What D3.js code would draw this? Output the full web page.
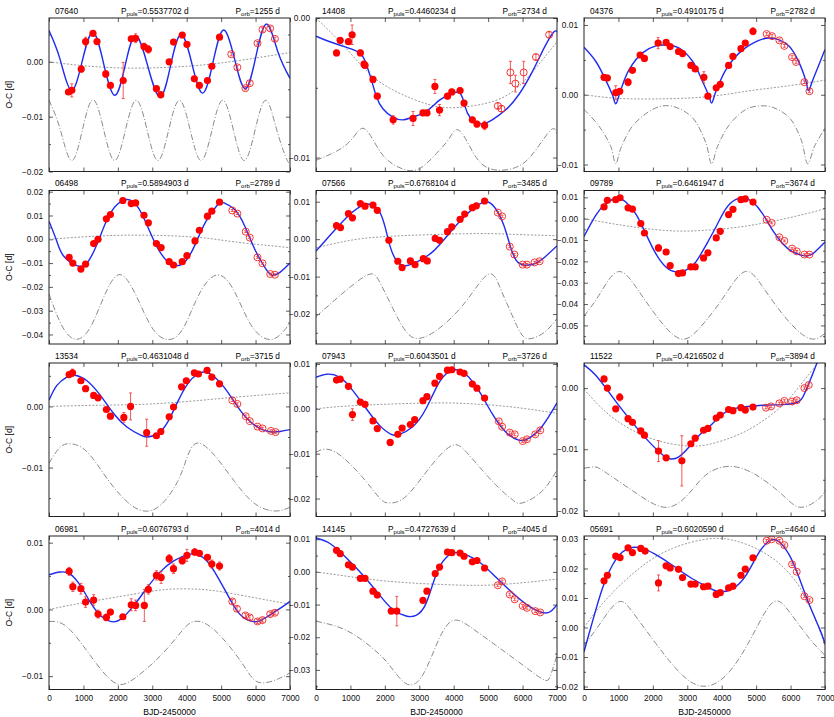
<!DOCTYPE html>
<html>
<head>
<meta charset="utf-8">
<script src="https://cdn.jsdelivr.net/npm/d3@7"></script>
<style>
body { margin: 0; background: #fff; }
text { font-family: "Liberation Sans", Arial, sans-serif; }
</style>
</head>
<body>
<script>
// ---- data: [BJD-2450000, O-C (d), error] for points, [BJD-2450000, O-C] for curves ----
var fill07640 = [[566,-0.0055,.0004],[663,-0.0052,.0012],[936,-0.0013,.0006],[1063,0.0037,.0008],[1277,0.0052,.0003],[1394,0.0037,.0004],[1648,-0.0022,.0006],[1784,-0.0043,.0004],[2155,-0.0034,.0033],[2389,0.0042,.0005],[2516,0.0043,.0008],[2759,0.0028,.0006],[2886,0.0023,.0007],[3120,-0.0049,.0004],[3247,-0.006,.0006],[3490,0.0,.0004],[3617,0.0036,.0004],[3871,0.0049,.0003],[4007,0.0032,.0003],[4222,-0.0031,.0004],[4368,-0.0043,.0004],[4602,-0.0034,.0004],[4729,-0.0008,.0004],[4953,0.0045,.0004]];
var open07640 = [[5294,0.0014,.0003],[5470,-0.001,.0003],[5704,-0.0048,.0003],[5831,-0.0039,.0003],[6055,0.0034,.0003],[6201,0.0059,.0003],[6425,0.0061,.0003],[6562,0.0042,.0003]];
var fit07640 = [[0,0.0057],[320,0.0005],[644,-0.0052],[960,0.0],[1277,0.0054],[1590,-0.0004],[1911,-0.0061],[2210,-0.0007],[2516,0.0048],[2870,-0.0008],[3227,-0.0064],[3530,-0.0007],[3832,0.005],[4150,-0.0003],[4466,-0.0057],[4770,0.0001],[5070,0.0058],[5390,0.0005],[5704,-0.0049],[6010,0.001],[6318,0.0069],[6650,0.0018],[7000,-0.003]];
var quad07640 = [[0,0.0],[1000,-0.0007],[2000,-0.0011],[3000,-0.0011],[4000,-0.0008],[5000,-0.0002],[6000,0.0007],[7000,0.0017]];
var ltte07640 = [[0,-0.007],[320,-0.0122],[648,-0.018],[960,-0.0127],[1275,-0.0069],[1590,-0.0124],[1903,-0.018],[2215,-0.0126],[2530,-0.007],[2845,-0.0123],[3158,-0.018],[3470,-0.0126],[3785,-0.007],[4100,-0.0124],[4413,-0.018],[4725,-0.0127],[5040,-0.007],[5355,-0.0124],[5668,-0.018],[5980,-0.0126],[6295,-0.007],[6610,-0.0123],[6923,-0.018],[7000,-0.0177]];

var fill14408 = [[596,-0.0025,.0002],[702,-0.0016,.0002],[943,-0.0017,.0002],[1049,-0.0012,.0007],[1289,-0.0025,.0002],[1395,-0.0033,.0002],[1424,-0.0034,.0002],[1655,-0.0044,.0002],[1780,-0.0056,.0002],[2241,-0.0073,.0003],[2819,-0.0072,.0005],[3107,-0.0068,.0002],[3223,-0.0068,.0002],[3454,-0.0049,.0005],[3588,-0.0066,.0004],[3819,-0.0056,.0002],[3944,-0.0053,.0002],[4185,-0.0052,.0002],[4300,-0.0061,.0002],[4541,-0.0073,.0002],[4675,-0.0076,.0002],[4897,-0.0077,.0003]];
var open14408 = [[5281,-0.0063,.0002],[5387,-0.0065,.0002],[5647,-0.0039,.0008],[5791,-0.0047,.0006],[6032,-0.0039,.0008],[6388,-0.0028,.0002],[6772,-0.0012,.0002]];
var fit14408 = [[0,-0.0013],[404,-0.0017],[885,-0.0021],[1270,-0.0025],[1443,-0.0032],[1607,-0.0044],[1751,-0.0056],[1943,-0.0065],[2232,-0.0071],[2520,-0.0073],[2809,-0.0071],[3194,-0.0067],[3579,-0.0059],[3867,-0.0055],[4107,-0.0053],[4252,-0.0057],[4396,-0.0068],[4589,-0.0074],[4829,-0.0076],[5118,-0.0073],[5503,-0.0066],[5888,-0.0055],[6273,-0.0039],[6657,-0.002],[6907,-0.001],[7000,-0.001]];
var quad14408 = [[0,0.0],[885,-0.0022],[1751,-0.0044],[2809,-0.0058],[3675,-0.0064],[4541,-0.0063],[5503,-0.0056],[6273,-0.0039],[7000,-0.0017]];
var ltte14408 = [[0,-0.0102],[700,-0.0094],[1100,-0.0085],[1366,-0.0079],[1650,-0.0087],[2000,-0.01],[2500,-0.0108],[3000,-0.0108],[3500,-0.0097],[3850,-0.0087],[4100,-0.008],[4400,-0.0089],[4750,-0.0103],[5250,-0.0109],[5900,-0.0106],[6400,-0.0094],[6834,-0.008],[7000,-0.0083]];

var fill04376 = [[582,0.0025,.0004],[679,0.0024,.0004],[922,0.0003,.001],[1038,0.0005,.0003],[1280,0.0018,.0005],[1407,0.0035,.0003],[1630,0.0057,.0003],[1756,0.0052,.0003],[2153,0.0074,.0008],[2386,0.0075,.0004],[2503,0.0069,.0003],[2745,0.0062,.0003],[2862,0.0059,.0004],[3104,0.0042,.0003],[3230,0.0037,.0003],[3482,0.0025,.0008],[3599,-0.0002,.0003],[3841,0.001,.0003],[3958,0.0015,.0003],[4200,0.0042,.0003],[4326,0.0055,.0003],[4559,0.0066,.0003],[4685,0.0074,.0003],[4908,0.0091,.0005]];
var open04376 = [[5306,0.0087,.0002],[5461,0.0084,.0002],[5675,0.0078,.0002],[5820,0.007,.0002],[6043,0.0054,.0002],[6160,0.0047,.0002],[6402,0.0018,.0002],[6548,0.0005,.0002]];
var fit04376 = [[0,0.0068],[340,0.0048],[631,0.0021],[825,0.0],[922,-0.0013],[1067,0.0007],[1310,0.0036],[1698,0.006],[2086,0.007],[2425,0.0071],[2765,0.0067],[3153,0.0048],[3444,0.0019],[3638,-0.0003],[3705,-0.0012],[3832,0.0005],[4123,0.0036],[4511,0.006],[4996,0.0076],[5287,0.0081],[5578,0.008],[5966,0.0069],[6257,0.0045],[6451,0.0019],[6518,0.0006],[6645,0.0021],[7000,0.0065]];
var quad04376 = [[0,0.0],[922,-0.0005],[2086,-0.0006],[3540,-0.0003],[4996,0.0007],[5966,0.0013],[7000,0.0021]];
var ltte04376 = [[0,-0.0021],[437,-0.0045],[777,-0.0074],[922,-0.0099],[1067,-0.0077],[1407,-0.0045],[1892,-0.0024],[2280,-0.0016],[2668,-0.0018],[3153,-0.0033],[3540,-0.0069],[3705,-0.0099],[3880,-0.0074],[4220,-0.0043],[4705,-0.0021],[5093,-0.0016],[5481,-0.0018],[5966,-0.0033],[6305,-0.0064],[6499,-0.0099],[6693,-0.0074],[7000,-0.0048]];

var fill06498 = [[585,-0.0076,.0005],[692,-0.01,.0005],[926,-0.0125,.0005],[1063,-0.0104,.0005],[1297,-0.0018,.0005],[1424,0.0,.0005],[1667,0.0086,.0005],[1784,0.0104,.0005],[2145,0.0163,.0005],[2389,0.015,.0005],[2516,0.0153,.0005],[2759,0.0101,.0005],[2886,0.0069,.0005],[3120,-0.0018,.0005],[3257,-0.0035,.0005],[3491,-0.0094,.0005],[3617,-0.0108,.0005],[3871,-0.0094,.0005],[4007,-0.0069,.0005],[4241,-0.0007,.0005],[4368,0.0038,.0005],[4602,0.0097,.0005],[4729,0.0118,.0005],[4953,0.0156,.0005]];
var open06498 = [[5324,0.0121,.0004],[5470,0.0108,.0004],[5714,0.0032,.0004],[5831,0.0007,.0004],[6055,-0.0076,.0004],[6201,-0.0101,.0004],[6425,-0.0146,.0004],[6562,-0.0149,.0004]];
var fit06498 = [[0,0.0076],[224,-0.0007],[419,-0.0069],[809,-0.0111],[1102,-0.01],[1394,-0.0021],[1687,0.0083],[1979,0.0146],[2272,0.0167],[2564,0.0139],[2857,0.0056],[3149,-0.0035],[3442,-0.0094],[3686,-0.0111],[3978,-0.009],[4271,-0.0014],[4563,0.0076],[4904,0.0146],[5080,0.0153],[5392,0.0125],[5684,0.0056],[5977,-0.0042],[6269,-0.0118],[6464,-0.015],[6708,-0.0139],[7000,-0.01]];
var quad06498 = [[0,0.0],[1492,0.0014],[2954,0.0017],[4417,0.0007],[5392,-0.0011],[6708,-0.0031],[7000,-0.0036]];
var ltte06498 = [[0,-0.023],[400,-0.037],[800,-0.042],[1200,-0.037],[1600,-0.024],[2000,-0.015],[2400,-0.02],[2800,-0.032],[3150,-0.04],[3550,-0.042],[3950,-0.036],[4400,-0.022],[4900,-0.015],[5350,-0.021],[5750,-0.033],[6100,-0.04],[6500,-0.042],[6850,-0.038],[7000,-0.035]];

var fill07566 = [[596,0.0036,.0004],[712,0.0031,.0004],[943,0.0068,.0004],[1058,0.0057,.0004],[1289,0.0095,.0004],[1424,0.0088,.0004],[1655,0.0091,.0004],[1780,0.0077,.0004],[2116,-0.0003,.0004],[2376,-0.0059,.0004],[2501,-0.0076,.0004],[2742,-0.0058,.0004],[2876,-0.0068,.0004],[3117,-0.0052,.0004],[3232,-0.0058,.0004],[3463,0.0002,.0004],[3588,-0.0003,.0004],[3819,0.002,.0004],[3944,0.0033,.0004],[4185,0.0053,.0004],[4319,0.0067,.0004],[4541,0.0084,.0004],[4656,0.0089,.0004],[4897,0.0102,.0004]];
var open07566 = [[5281,0.0071,.0003],[5406,0.0061,.0003],[5628,-0.002,.0003],[5762,-0.0041,.0003],[6003,-0.0068,.0003],[6128,-0.0068,.0003],[6349,-0.0062,.0003],[6494,-0.0059,.0003]];
var fit07566 = [[0,-0.0032],[500,0.002],[981,0.0066],[1366,0.0091],[1607,0.0092],[1847,0.0073],[2020,0.0028],[2155,-0.002],[2328,-0.0056],[2568,-0.0071],[2905,-0.0062],[3386,-0.0034],[3867,0.0015],[4348,0.0064],[4733,0.0093],[4974,0.01],[5214,0.0082],[5455,0.0037],[5647,-0.002],[5811,-0.0056],[6032,-0.0069],[6368,-0.0065],[6657,-0.0047],[7000,-0.0018]];
var quad07566 = [[0,-0.0023],[885,-0.0005],[1847,0.0006],[3290,0.0012],[4733,0.0015],[5695,0.0013],[7000,0.0009]];
var ltte07566 = [[0,-0.0207],[885,-0.0136],[1539,-0.0094],[1847,-0.0114],[2232,-0.0185],[2617,-0.0247],[3002,-0.0265],[3579,-0.0238],[4348,-0.0167],[5002,-0.0094],[5358,-0.0132],[5695,-0.0203],[5984,-0.0256],[6273,-0.0265],[6657,-0.0247],[7000,-0.0212]];

var fill09789 = [[582,0.0055,.0006],[679,0.0086,.0006],[922,0.0089,.0006],[1048,0.0098,.0006],[1280,0.0051,.0006],[1407,0.0045,.0006],[1649,-0.0023,.0006],[1756,-0.0067,.0006],[2163,-0.0137,.0015],[2386,-0.0156,.001],[2503,-0.022,.0006],[2745,-0.0257,.0006],[2862,-0.0254,.0006],[3104,-0.0226,.0006],[3230,-0.0226,.0006],[3473,-0.0184,.0006],[3599,-0.016,.0006],[3841,-0.009,.0006],[3958,-0.0059,.0006],[4200,0.0019,.0006],[4326,0.0044,.0006],[4559,0.0089,.0006],[4685,0.0093,.0006],[4908,0.0078,.0006]];
var open09789 = [[5306,-0.0005,.0004],[5451,-0.002,.0004],[5675,-0.0087,.0004],[5820,-0.0104,.0004],[6043,-0.014,.0004],[6179,-0.0153,.0004],[6402,-0.0168,.0004],[6548,-0.0168,.0004]];
var fit09789 = [[0,-0.0083],[340,0.0016],[631,0.007],[970,0.0097],[1213,0.0078],[1504,0.0023],[1795,-0.007],[2086,-0.0164],[2377,-0.0226],[2668,-0.0249],[2959,-0.0241],[3250,-0.0202],[3540,-0.0125],[3832,-0.0039],[4123,0.0047],[4414,0.009],[4656,0.0097],[4899,0.0078],[5190,0.0023],[5481,-0.0055],[5772,-0.0117],[6063,-0.0156],[6402,-0.0174],[6645,-0.0164],[7000,-0.0109]];
var quad09789 = [[0,0.0],[1116,-0.0031],[2000,-0.005],[2765,-0.0058],[3540,-0.0054],[4511,-0.0039],[5481,-0.0012],[6451,0.0023],[7000,0.0047]];
var ltte09789 = [[0,-0.0456],[437,-0.0358],[970,-0.0249],[1504,-0.0319],[2086,-0.0452],[2765,-0.0561],[3347,-0.0514],[4026,-0.0374],[4656,-0.0249],[5190,-0.0319],[5869,-0.0467],[6548,-0.0561],[7000,-0.0537]];

var fill13534 = [[585,0.0052,.0003],[683,0.0055,.0006],[926,0.0042,.0003],[1063,0.0029,.0003],[1297,0.0018,.0003],[1424,0.0014,.0003],[1667,-0.0005,.0003],[1784,-0.0016,.0003],[2174,-0.0018,.0008],[2369,0.0,.0022],[2837,-0.0043,.0022],[3120,-0.0048,.0003],[3247,-0.0041,.0004],[3491,-0.0017,.0003],[3617,-0.0001,.0003],[3851,0.0032,.0003],[3988,0.0042,.0003],[4222,0.0055,.0003],[4339,0.0053,.0003],[4592,0.0059,.0003],[4729,0.0048,.0003],[4953,0.0037,.0003]];
var open13534 = [[5324,0.001,.0002],[5470,0.0004,.0002],[5714,-0.0016,.0002],[5831,-0.0024,.0002],[6055,-0.0033,.0002],[6201,-0.0036,.0002],[6445,-0.004,.0002],[6581,-0.0042,.0002]];
var fit13534 = [[0,0.001],[224,0.0034],[517,0.0048],[760,0.0051],[1102,0.0042],[1492,0.0018],[1882,-0.0012],[2272,-0.0034],[2662,-0.0047],[2857,-0.005],[3149,-0.0045],[3442,-0.0026],[3734,0.0007],[4027,0.0037],[4319,0.0053],[4534,0.0056],[4807,0.0048],[5197,0.0023],[5587,-0.0009],[5977,-0.0031],[6367,-0.0041],[6708,-0.0041],[7000,-0.0038]];
var quad13534 = [[0,0.0],[1492,0.0002],[2954,0.0004],[4417,0.001],[5392,0.0015],[6708,0.0021],[7000,0.0022]];
var ltte13534 = [[0,-0.0093],[300,-0.0068],[614,-0.0061],[1102,-0.0074],[1687,-0.0118],[2272,-0.0156],[2759,-0.0171],[3247,-0.0161],[3734,-0.0123],[4000,-0.0085],[4300,-0.006],[4807,-0.008],[5392,-0.0123],[5977,-0.0159],[6562,-0.0171],[7000,-0.0165]];

var fill07943 = [[596,0.0064,.0004],[702,0.0066,.0004],[943,0.005,.0004],[1058,-0.0013,.0013],[1289,0.0015,.0004],[1424,0.001,.0004],[1655,-0.0027,.0004],[1780,-0.0044,.0004],[2155,-0.0075,.0004],[2376,-0.0057,.0004],[2501,-0.0043,.0004],[2742,-0.0035,.0004],[2867,-0.0024,.0004],[3107,0.0018,.0004],[3223,0.0027,.0004],[3454,0.0057,.0004],[3588,0.0072,.0004],[3819,0.0086,.0004],[3944,0.0087,.0004],[4185,0.0082,.0004],[4300,0.0079,.0004],[4541,0.0055,.0004],[4675,0.0046,.0004],[4897,0.0024,.0004]];
var open07943 = [[5310,-0.0028,.0003],[5406,-0.004,.0003],[5628,-0.0053,.0003],[5772,-0.0057,.0003],[6003,-0.0072,.0003],[6128,-0.0068,.0003],[6368,-0.0057,.0003],[6513,-0.0048,.0003]];
var fit07943 = [[0,0.007],[308,0.0077],[693,0.007],[1077,0.004],[1462,0.0],[1847,-0.0037],[2184,-0.0057],[2424,-0.0057],[2809,-0.004],[3194,0.0],[3579,0.0059],[3867,0.0082],[4060,0.0087],[4348,0.0077],[4733,0.004],[5118,-0.0011],[5503,-0.0051],[5888,-0.007],[6176,-0.0066],[6561,-0.004],[7000,0.0013]];
var quad07943 = [[0,0.0],[885,0.0006],[2328,0.0011],[3771,0.0013],[4733,0.001],[5695,0.0004],[7000,-0.001]];
var ltte07943 = [[0,-0.0097],[250,-0.009],[693,-0.0103],[1366,-0.0154],[1847,-0.0199],[2136,-0.021],[2617,-0.0195],[3290,-0.0132],[3944,-0.0082],[4444,-0.0103],[5214,-0.0169],[5695,-0.0202],[5984,-0.021],[6561,-0.0184],[7000,-0.0136]];

var fill11522 = [[582,0.0015,.0003],[679,0.0,.0003],[922,-0.0034,.0003],[1038,-0.0015,.0006],[1280,-0.005,.0003],[1407,-0.0056,.0003],[1649,-0.007,.0003],[1756,-0.0077,.0003],[2163,-0.0103,.0017],[2386,-0.0114,.0003],[2842,-0.0119,.0041],[3104,-0.0091,.0003],[3230,-0.0082,.0003],[3473,-0.0069,.0003],[3599,-0.0066,.0003],[3841,-0.0049,.0003],[3958,-0.0044,.0003],[4200,-0.0035,.0003],[4326,-0.0037,.0003],[4559,-0.0032,.0003],[4685,-0.0036,.0003],[4908,-0.0031,.0003]];
var open11522 = [[5287,-0.0032,.0002],[5432,-0.003,.0002],[5675,-0.0025,.0002],[5820,-0.0021,.0002],[6043,-0.0022,.0002],[6179,-0.002,.0002],[6402,0.0,.0002],[6528,0.0005,.0002]];
var fit11522 = [[0,0.0038],[340,0.0021],[728,-0.0007],[1116,-0.0036],[1504,-0.0063],[1892,-0.0088],[2280,-0.0109],[2522,-0.0116],[2765,-0.0112],[3056,-0.0096],[3347,-0.0077],[3638,-0.0063],[3929,-0.0047],[4220,-0.0036],[4608,-0.0031],[5190,-0.0028],[5772,-0.0027],[6160,-0.0024],[6354,-0.0015],[6548,0.001],[6790,0.0045],[7000,0.0085]];
var quad11522 = [[0,-0.0002],[631,-0.0039],[1310,-0.0066],[2086,-0.0085],[2862,-0.0094],[3540,-0.0093],[4317,-0.008],[4996,-0.0061],[5772,-0.0028],[6354,0.001],[6790,0.004],[7000,0.0055]];
var ltte11522 = [[0,-0.0131],[300,-0.0129],[631,-0.0138],[1601,-0.0175],[2425,-0.0195],[3056,-0.0172],[3540,-0.0142],[4220,-0.0128],[4996,-0.0142],[5772,-0.0175],[6305,-0.0195],[6839,-0.018],[7000,-0.0166]];

var fill06981 = [[585,0.0057,.0006],[692,0.0034,.0007],[926,0.0031,.0008],[1063,0.0011,.0008],[1297,0.0014,.0008],[1424,-0.0007,.0006],[1667,-0.0012,.0005],[1784,-0.0004,.0004],[2145,-0.0011,.0003],[2389,0.0007,.0009],[2516,0.0006,.0008],[2769,0.0006,.0024],[2886,0.003,.0007],[3120,0.0051,.0007],[3257,0.0048,.0009],[3491,0.0076,.0006],[3617,0.0061,.0007],[3871,0.0073,.0005],[4007,0.0081,.0009],[4232,0.0086,.0005],[4368,0.0084,.0004],[4602,0.0078,.0004],[4729,0.0068,.0006],[4953,0.0065,.0006]];
var open06981 = [[5324,0.0012,.0003],[5460,0.0001,.0003],[5704,-0.0009,.0003],[5831,-0.0012,.0003],[6055,-0.0018,.0003],[6201,-0.0016,.0003],[6425,-0.0007,.0003],[6562,-0.0005,.0003]];
var fit06981 = [[0,0.0052],[322,0.0056],[614,0.0053],[907,0.0036],[1199,0.0011],[1492,-0.0009],[1784,-0.0018],[2077,-0.0015],[2467,0.0006],[2857,0.0033],[3247,0.0057],[3637,0.0073],[4027,0.0082],[4319,0.0082],[4612,0.0071],[4904,0.0048],[5197,0.0021],[5490,-0.0004],[5782,-0.0016],[6075,-0.0018],[6367,-0.001],[6757,0.0003],[7000,0.0012]];
var quad06981 = [[0,0.0],[1004,0.001],[2467,0.0023],[3442,0.003],[4417,0.003],[5392,0.0023],[6757,0.001],[7000,0.0008]];
var ltte06981 = [[0,-0.0018],[517,-0.0026],[1199,-0.0069],[1882,-0.0109],[2467,-0.0104],[3247,-0.0069],[3832,-0.0034],[4222,-0.0018],[4807,-0.0031],[5587,-0.0079],[6075,-0.0109],[6659,-0.0104],[7000,-0.0095]];

var fill14145 = [[596,0.0066,.0005],[702,0.0056,.0005],[943,0.0022,.0005],[1058,0.0015,.0005],[1289,-0.002,.0005],[1424,-0.002,.0005],[1655,-0.0059,.0005],[1780,-0.0071,.0005],[2184,-0.012,.0005],[2347,-0.012,.0045],[3107,-0.0087,.0005],[3223,-0.0059,.0005],[3463,-0.0005,.0005],[3588,0.0015,.0005],[3819,0.0061,.0005],[3944,0.0059,.0005],[4185,0.0058,.0005],[4300,0.0048,.0005],[4541,0.0031,.0005],[4675,0.0035,.0005],[4897,0.0012,.0005]];
var open14145 = [[5281,-0.0041,.0004],[5406,-0.0029,.0004],[5628,-0.0069,.0004],[5772,-0.0084,.0004],[6003,-0.0104,.0004],[6128,-0.011,.0004],[6368,-0.012,.0004],[6513,-0.0124,.0004]];
var fit14145 = [[0,0.0104],[404,0.0087],[885,0.0043],[1366,-0.001],[1847,-0.0071],[2232,-0.0115],[2617,-0.0135],[2905,-0.0133],[3194,-0.0097],[3482,-0.001],[3771,0.0043],[4060,0.0059],[4348,0.0053],[4733,0.0031],[5214,-0.0015],[5695,-0.0063],[6176,-0.0104],[6561,-0.0124],[6801,-0.0122],[7000,-0.01]];
var quad14145 = [[0,0.0],[885,-0.0013],[1847,-0.0026],[2809,-0.0034],[3771,-0.0039],[4733,-0.0041],[5695,-0.0036],[7000,-0.0022]];
var ltte14145 = [[0,-0.0151],[885,-0.0179],[1655,-0.0235],[2136,-0.0286],[2617,-0.0342],[3098,-0.0316],[3579,-0.0204],[4012,-0.0148],[4541,-0.0173],[5214,-0.0224],[5888,-0.0276],[6561,-0.0327],[6800,-0.032],[7000,-0.0255]];

var fill05691 = [[582,0.0158,.0005],[679,0.0177,.0005],[922,0.0242,.0005],[1048,0.0237,.0005],[1280,0.027,.0005],[1407,0.0254,.0005],[1649,0.0268,.0005],[1775,0.0259,.0005],[2163,0.0151,.0027],[2386,0.0209,.0005],[2503,0.0202,.0005],[2745,0.0197,.0005],[2862,0.0169,.0005],[3104,0.0147,.0005],[3230,0.0147,.0008],[3473,0.0138,.0005],[3599,0.014,.0005],[3841,0.0112,.0005],[3958,0.0118,.0005],[4200,0.0134,.0005],[4326,0.014,.0005],[4559,0.0177,.0005],[4685,0.0198,.0005],[4908,0.0236,.0005]];
var open05691 = [[5306,0.0294,.0004],[5451,0.0299,.0004],[5675,0.0294,.0004],[5820,0.0279,.0004],[6043,0.0214,.0004],[6179,0.0189,.0004],[6402,0.0106,.0004],[6548,0.0093,.0004]];
var fit05691 = [[0,-0.0082],[243,0.0019],[534,0.0132],[825,0.0211],[1116,0.0256],[1407,0.0271],[1698,0.0268],[2086,0.0247],[2571,0.0211],[3056,0.0172],[3540,0.014],[3929,0.0121],[4317,0.0132],[4705,0.0177],[5093,0.0256],[5432,0.0296],[5675,0.029],[5966,0.0245],[6257,0.0166],[6548,0.0076],[6839,-0.0003],[7000,-0.0054]];
var quad05691 = [[0,0.0],[631,0.0093],[1601,0.02],[2571,0.0268],[3540,0.0299],[4317,0.0296],[5190,0.0256],[5966,0.0183],[6548,0.0076],[7000,-0.006]];
var ltte05691 = [[0,-0.006],[437,0.0008],[970,0.0085],[1407,0.0053],[2086,-0.0054],[2862,-0.0162],[3540,-0.0199],[4220,-0.015],[4899,-0.0026],[5481,0.0085],[5966,0.0053],[6548,-0.0037],[7000,-0.0094]];

var xTicks = [0, 1000, 2000, 3000, 4000, 5000, 6000, 7000];

var panels = [
  {id:"07640", puls:"0.5537702", orb:"1255", dom:[-0.02, 0.008], fill:fill07640, open:open07640, fit:fit07640, quad:quad07640, ltte:ltte07640},
  {id:"14408", puls:"0.4460234", orb:"2734", dom:[-0.011, 0.0], fill:fill14408, open:open14408, fit:fit14408, quad:quad14408, ltte:ltte14408},
  {id:"04376", puls:"0.4910175", orb:"2782", dom:[-0.011, 0.011], fill:fill04376, open:open04376, fit:fit04376, quad:quad04376, ltte:ltte04376},
  {id:"06498", puls:"0.5894903", orb:"2789", dom:[-0.044, 0.0205], fill:fill06498, open:open06498, fit:fit06498, quad:quad06498, ltte:ltte06498},
  {id:"07566", puls:"0.6768104", orb:"3485", dom:[-0.028, 0.013], fill:fill07566, open:open07566, fit:fit07566, quad:quad07566, ltte:ltte07566},
  {id:"09789", puls:"0.6461947", orb:"3674", dom:[-0.0587, 0.0132], fill:fill09789, open:open09789, fit:fit09789, quad:quad09789, ltte:ltte09789},
  {id:"13534", puls:"0.4631048", orb:"3715", dom:[-0.018, 0.0071], fill:fill13534, open:open13534, fit:fit13534, quad:quad13534, ltte:ltte13534},
  {id:"07943", puls:"0.6043501", orb:"3726", dom:[-0.024, 0.0102], fill:fill07943, open:open07943, fit:fit07943, quad:quad07943, ltte:ltte07943},
  {id:"11522", puls:"0.4216502", orb:"3894", dom:[-0.021, 0.0041], fill:fill11522, open:open11522, fit:fit11522, quad:quad11522, ltte:ltte11522},
  {id:"06981", puls:"0.6076793", orb:"4014", dom:[-0.012, 0.011], fill:fill06981, open:open06981, fit:fit06981, quad:quad06981, ltte:ltte06981},
  {id:"14145", puls:"0.4727639", orb:"4045", dom:[-0.036, 0.011], fill:fill14145, open:open14145, fit:fit14145, quad:quad14145, ltte:ltte14145},
  {id:"05691", puls:"0.6020590", orb:"4640", dom:[-0.021, 0.031], fill:fill05691, open:open05691, fit:fit05691, quad:quad05691, ltte:ltte05691}
];

// ---- layout ----
var lefts = [49, 316, 584];
var tops = [18, 190.5, 363, 536];
var w = 241, h = 153.5;
var fs = 8.3;

var svg = d3.select("body").append("svg").attr("width", 834).attr("height", 717);
var fmt = d3.format(".2f");

panels.forEach(function(p, i) {
  var col = i % 3, row = Math.floor(i / 3);
  var g = svg.append("g").attr("transform", "translate(" + lefts[col] + "," + tops[row] + ")");

  var x = d3.scaleLinear().domain([0, 7000]).range([0, w]);
  var y = d3.scaleLinear().domain(p.dom).range([h, 0]);

  // y ticks every 0.01 (labelled) and 0.005 (minor)
  var major = [], minor = [];
  for (var k = Math.ceil(p.dom[0] / 0.005 - 1e-6); k <= Math.floor(p.dom[1] / 0.005 + 1e-6); k++) {
    var v = Math.round(k * 5) / 1000;
    if (k % 2 === 0) major.push(v); else minor.push(v);
  }

  g.append("clipPath").attr("id", "clip" + i)
    .append("rect").attr("width", w).attr("height", h);

  var axL = g.append("g").call(d3.axisLeft(y).tickValues(major).tickSize(-4).tickPadding(6)
      .tickFormat(function(d) { return d === 0 ? "0.00" : fmt(d); }));
  var axL2 = g.append("g").call(d3.axisLeft(y).tickValues(minor).tickSize(-2).tickFormat(""));
  var axR = g.append("g").attr("transform", "translate(" + w + ",0)")
      .call(d3.axisRight(y).tickValues(major).tickSize(-4).tickFormat(""));
  var axR2 = g.append("g").attr("transform", "translate(" + w + ",0)")
      .call(d3.axisRight(y).tickValues(minor).tickSize(-2).tickFormat(""));
  var axB = g.append("g").attr("transform", "translate(0," + h + ")")
      .call(d3.axisBottom(x).tickValues(xTicks).tickSize(-4).tickPadding(6)
        .tickFormat(row === 3 ? d3.format("d") : ""));
  var axT = g.append("g").call(d3.axisTop(x).tickValues(xTicks).tickSize(-4).tickFormat(""));

  [axL, axL2, axR, axR2, axB, axT].forEach(function(a) {
    a.select(".domain").remove();
    a.attr("font-size", fs).attr("font-family", null);
    a.selectAll("line").attr("stroke", "#333").attr("stroke-width", 0.8);
    a.selectAll("text").attr("fill", "#111");
  });

  // the 04376 fit has cusps, a natural spline would overshoot them
  var curve = p.id === "04376" ? d3.curveCatmullRom.alpha(0.5) : d3.curveNatural;
  var plot = g.append("g").attr("clip-path", "url(#clip" + i + ")");
  var line = d3.line()
    .x(function(d) { return x(d[0]); })
    .y(function(d) { return y(d[1]); })
    .curve(curve);

  plot.append("path").datum(p.ltte).attr("d", line)
    .attr("fill", "none").attr("stroke", "#8a8a8a").attr("stroke-width", 1)
    .attr("stroke-dasharray", "6,2,1,2");
  plot.append("path").datum(p.quad).attr("d", line)
    .attr("fill", "none").attr("stroke", "#9a9a9a").attr("stroke-width", 1)
    .attr("stroke-dasharray", "2,1.6");
  plot.append("path").datum(p.fit).attr("d", line)
    .attr("fill", "none").attr("stroke", "#1f2bf0").attr("stroke-width", 1.4);

  var pts = p.fill.concat(p.open);
  var eb = plot.selectAll(".eb").data(pts).enter().append("g").attr("class", "eb");
  eb.append("line")
    .attr("x1", function(d) { return x(d[0]); }).attr("x2", function(d) { return x(d[0]); })
    .attr("y1", function(d) { return y(d[1] - d[2]); }).attr("y2", function(d) { return y(d[1] + d[2]); });
  eb.append("line")
    .attr("x1", function(d) { return x(d[0]) - 1.5; }).attr("x2", function(d) { return x(d[0]) + 1.5; })
    .attr("y1", function(d) { return y(d[1] - d[2]); }).attr("y2", function(d) { return y(d[1] - d[2]); });
  eb.append("line")
    .attr("x1", function(d) { return x(d[0]) - 1.5; }).attr("x2", function(d) { return x(d[0]) + 1.5; })
    .attr("y1", function(d) { return y(d[1] + d[2]); }).attr("y2", function(d) { return y(d[1] + d[2]); });
  eb.selectAll("line").attr("stroke", "#f03030").attr("stroke-width", 0.8);

  plot.selectAll(".fp").data(p.fill).enter().append("circle").attr("class", "fp")
    .attr("cx", function(d) { return x(d[0]); })
    .attr("cy", function(d) { return y(d[1]); })
    .attr("r", 3.6).attr("fill", "#ff0000");
  plot.selectAll(".op").data(p.open).enter().append("circle").attr("class", "op")
    .attr("cx", function(d) { return x(d[0]); })
    .attr("cy", function(d) { return y(d[1]); })
    .attr("r", 3.5).attr("fill", "none").attr("stroke", "#f02020").attr("stroke-width", 0.9);

  g.append("rect").attr("width", w).attr("height", h)
    .attr("fill", "none").attr("stroke", "#222").attr("stroke-width", 1);

  // panel title
  g.append("text").attr("x", 6).attr("y", -4.5).attr("font-size", fs).text(p.id);
  var t1 = g.append("text").attr("x", 72).attr("y", -4.5).attr("font-size", fs);
  t1.append("tspan").text("P");
  t1.append("tspan").attr("font-size", 6).attr("dy", 2).text("puls");
  t1.append("tspan").attr("dy", -2).text("=" + p.puls + " d");
  var t2 = g.append("text").attr("x", w - 10).attr("y", -4.5).attr("font-size", fs).attr("text-anchor", "end");
  t2.append("tspan").text("P");
  t2.append("tspan").attr("font-size", 6).attr("dy", 2).text("orb");
  t2.append("tspan").attr("dy", -2).text("=" + p.orb + " d");

  if (col === 0) {
    g.append("text").attr("transform", "translate(-37," + (h / 2) + ") rotate(-90)")
      .attr("text-anchor", "middle").attr("font-size", 8.6).text("O-C [d]");
  }
  if (row === 3) {
    g.append("text").attr("x", w / 2).attr("y", h + 25).attr("text-anchor", "middle")
      .attr("font-size", 8.6).text("BJD-2450000");
  }
});
</script>
</body>
</html>
